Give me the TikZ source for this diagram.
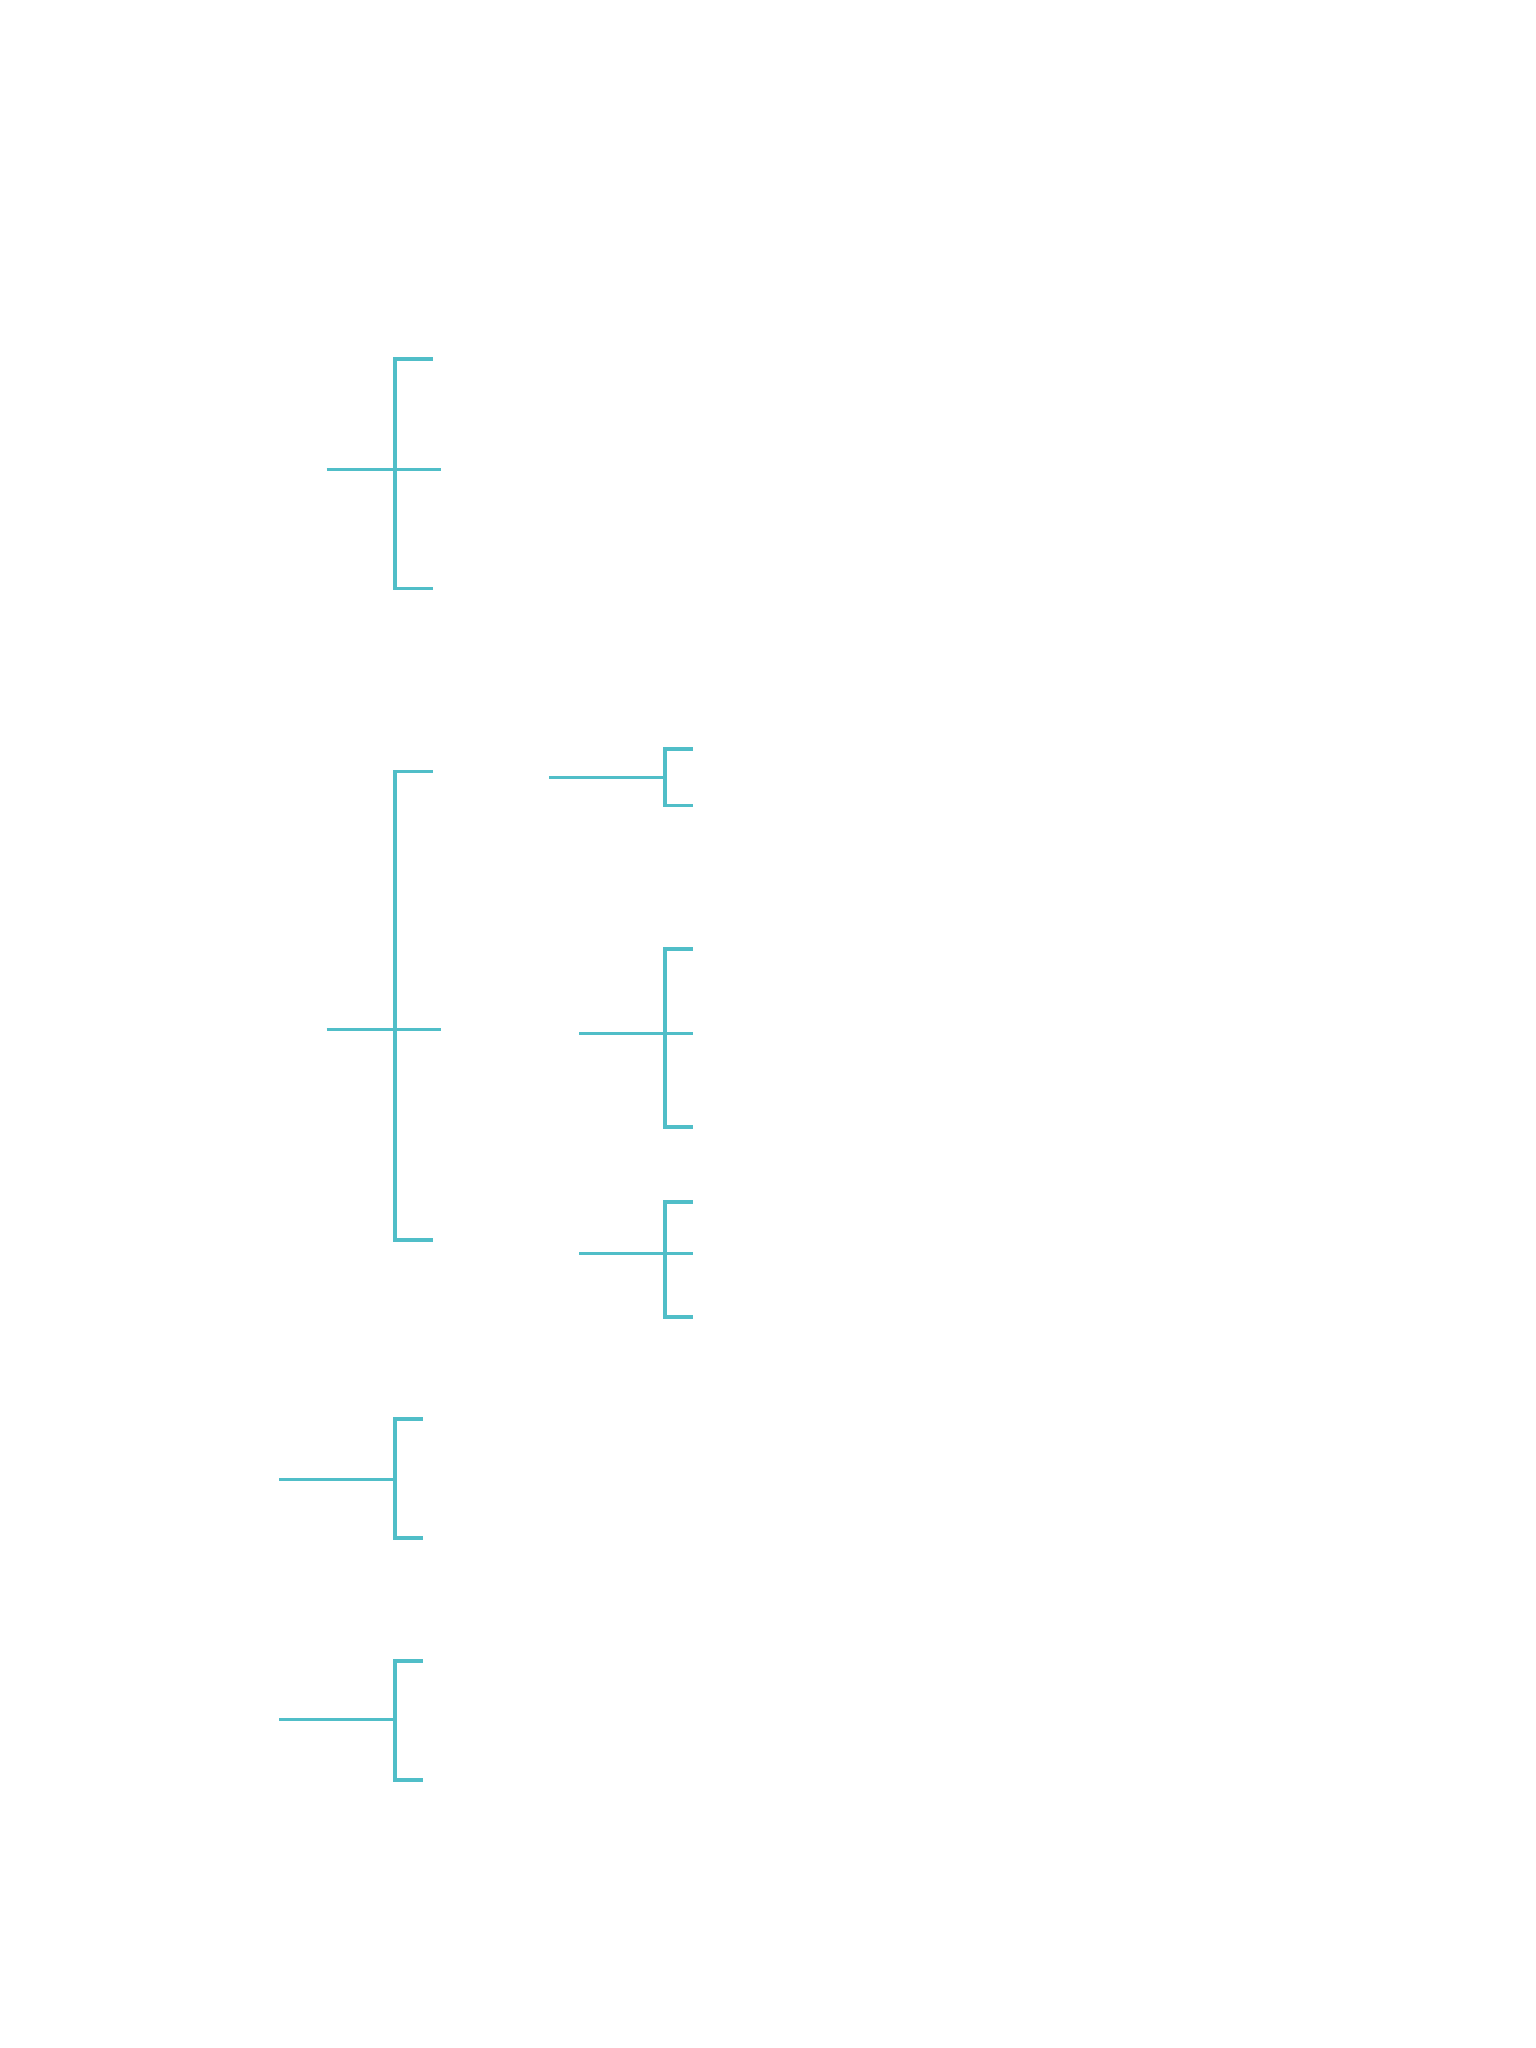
\documentclass[tikz,border=0pt]{standalone}
\usepackage{tikz}

\definecolor{fig-bracket}{RGB}{ 80, 190, 200}

\begin{document}
\begin{tikzpicture}[x=0.01cm, y=-0.01cm, line width=0.33mm,
    bracket/.style={draw=fig-bracket, line join=miter},
    stem/.style={draw=fig-bracket}]
    \useasboundingbox (0,0) rectangle (1536,2048);

    \coordinate (a) at (395,469.7);
    \draw[bracket] (432.7,359) -- (395,359) -- (395,588.5) -- (432.7,588.5);
    \draw[stem] (326.7,469.7) -- (441,469.7);

    \coordinate (b) at (395,1029.7);
    \draw[bracket] (432.7,771.5) -- (395,771.5) -- (395,1240) -- (432.7,1240);
    \draw[stem] (326.7,1029.7) -- (441.3,1029.7);

    \coordinate (c1) at (665,777.7);
    \coordinate (c1-in) at (549,777.7);
    \draw[bracket] (692.7,749) -- (665,749) -- (665,805.5) -- (692.7,805.5);
    \draw[stem] (c1-in) -- (c1);

    \coordinate (c2) at (665,1033.7);
    \draw[bracket] (692.7,949) -- (665,949) -- (665,1127) -- (692.7,1127);
    \draw[stem] (579,1033.7) -- (693,1033.7);

    \coordinate (c3) at (665,1253.7);
    \draw[bracket] (692.7,1202) -- (665,1202) -- (665,1317) -- (692.7,1317);
    \draw[stem] (579,1253.7) -- (693,1253.7);

    \coordinate (d) at (395,1479.7);
    \coordinate (d-in) at (279,1479.7);
    \draw[bracket] (422.7,1419) -- (395,1419) -- (395,1538) -- (422.7,1538);
    \draw[stem] (d-in) -- (d);

    \coordinate (e) at (395,1719.7);
    \coordinate (e-in) at (279,1719.7);
    \draw[bracket] (422.7,1661) -- (395,1661) -- (395,1780) -- (422.7,1780);
    \draw[stem] (e-in) -- (e);
  \end{tikzpicture}
\end{document}
